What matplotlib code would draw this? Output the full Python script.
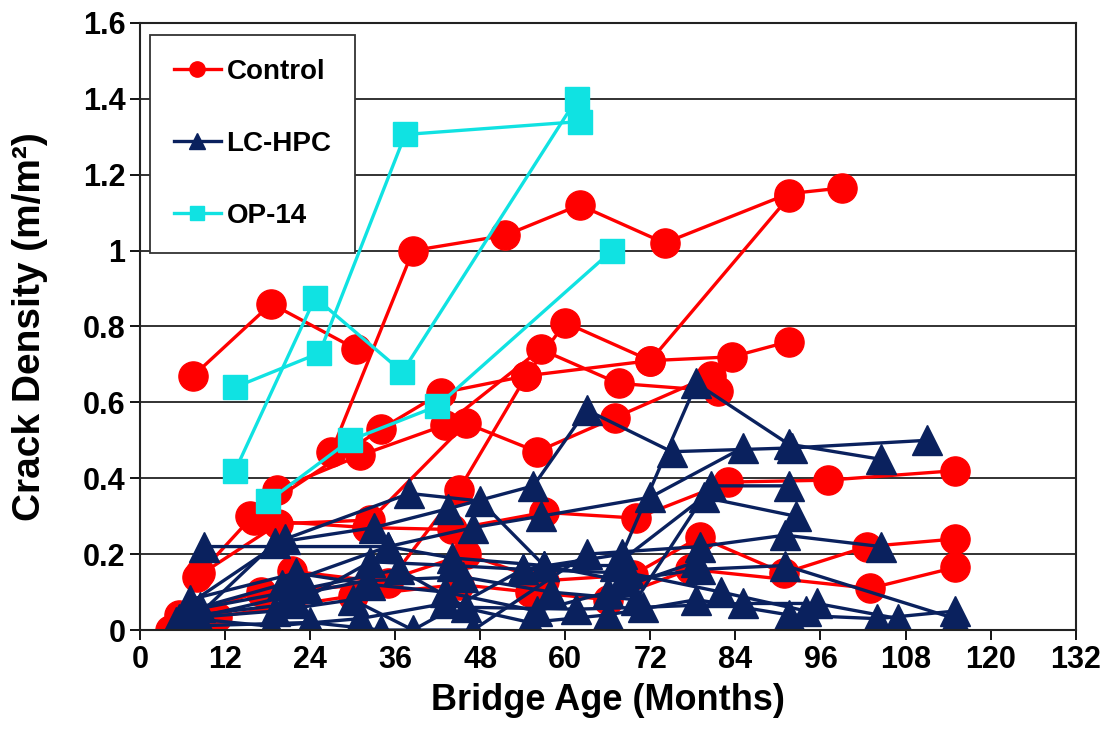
import matplotlib.pyplot as plt
from matplotlib.lines import Line2D

plt.rcParams['font.family'] = ['Liberation Sans', 'DejaVu Sans']
plt.rcParams['font.weight'] = 'bold'

# Control decks: (bridge age in months, crack density in m/m^2)
control_x = [
    [7.5, 18.5, 30.5],
    [27, 38.5, 51.5, 62, 74, 91.5, 99],
    [8.5, 19.3, 31, 43, 56.5, 67.5, 81.5],
    [15.5, 34, 42.5, 54.5, 60, 72, 91.5],
    [8, 19.5, 32.5, 46, 56, 67, 80.5],
    [21.5, 35, 45, 54.5, 72, 83.5, 91.5],
    [16, 32, 44, 57, 70, 83, 97, 115],
    [5.5, 17, 33, 46, 57, 69.5, 79, 90.8, 102.6, 115],
    [4.2, 10.8, 30, 45, 55, 66, 77.6, 103, 115],
]
control_y = [
    [0.67, 0.86, 0.74],
    [0.47, 1.00, 1.04, 1.12, 1.02, 1.15, 1.165],
    [0.15, 0.37, 0.46, 0.54, 0.74, 0.65, 0.63],
    [0.30, 0.53, 0.625, 0.67, 0.81, 0.71, 1.14],
    [0.14, 0.28, 0.29, 0.545, 0.47, 0.56, 0.67],
    [0.155, 0.125, 0.37, 0.67, 0.71, 0.72, 0.76],
    [0.29, 0.27, 0.265, 0.31, 0.295, 0.39, 0.395, 0.42],
    [0.04, 0.10, 0.12, 0.20, 0.13, 0.145, 0.245, 0.15, 0.22, 0.24],
    [0.0, 0.035, 0.09, 0.12, 0.10, 0.08, 0.16, 0.11, 0.165],
]

# LC-HPC decks
lchpc_x = [
    [6, 19, 33, 43.5, 55.5, 63, 75, 92, 111],
    [9, 35, 47, 56.5, 72, 85],
    [7, 20.5, 38, 48, 57, 67, 79.5, 92.5],
    [8, 22, 32.5, 44, 54, 68, 78.5, 91.5, 104.5],
    [5, 21, 32, 45.5, 58, 70, 80.5, 91.5],
    [6.5, 23.5, 36.5, 46, 61.5, 71, 85, 95.5, 107],
    [7.5, 18.5, 31, 43, 55, 66, 78.5, 91.5, 104, 115],
    [6, 24, 34, 47, 63, 79, 91, 104.5],
    [8.5, 20, 35, 44, 57, 68, 79, 91, 115],
    [5.5, 19, 30, 38.5, 54, 69, 82, 94],
    [7, 22, 32.5, 43, 56, 66, 78.5],
]
lchpc_y = [
    [0.0, 0.23, 0.27, 0.32, 0.38, 0.58, 0.47, 0.48, 0.50],
    [0.22, 0.22, 0.27, 0.30, 0.35, 0.48],
    [0.07, 0.24, 0.36, 0.34, 0.17, 0.17, 0.35, 0.30],
    [0.04, 0.07, 0.18, 0.17, 0.16, 0.20, 0.65, 0.49, 0.45],
    [0.02, 0.09, 0.13, 0.14, 0.10, 0.08, 0.38, 0.38],
    [0.05, 0.11, 0.16, 0.06, 0.055, 0.06, 0.07, 0.07, 0.03],
    [0.03, 0.01, 0.03, 0.07, 0.02, 0.04, 0.08, 0.04, 0.03, 0.05],
    [0.01, 0.02, 0.0, 0.0, 0.20, 0.22, 0.25, 0.22],
    [0.06, 0.12, 0.22, 0.19, 0.17, 0.13, 0.16, 0.17, 0.03],
    [0.03, 0.05, 0.08, 0.0, 0.16, 0.15, 0.10, 0.05],
    [0.08, 0.15, 0.12, 0.10, 0.05, 0.10, 0.18],
]

# OP-14 decks
op14_x = [
    [13.4, 24.7, 37, 61.6],
    [13.4, 25.3, 37.4, 62],
    [18.1, 29.6, 41.9, 66.6],
]
op14_y = [
    [0.42, 0.876, 0.68, 1.40],
    [0.64, 0.73, 1.306, 1.34],
    [0.34, 0.50, 0.59, 1.00],
]

red = '#FF0000'
navy = '#0A215E'
cyan = '#10E2E2'

fig = plt.figure(figsize=(11.12, 7.4), dpi=100)
ax = fig.add_axes([0.126, 0.1486, 0.8413, 0.8204])

for xs, ys in zip(control_x, control_y):
    ax.plot(xs, ys, color=red, lw=2.4, marker='o', ms=21, mec=red, mfc=red)
for xs, ys in zip(lchpc_x, lchpc_y):
    ax.plot(xs, ys, color=navy, lw=2.4, marker='^', ms=21, mec=navy, mfc=navy)
for xs, ys in zip(op14_x, op14_y):
    ax.plot(xs, ys, color=cyan, lw=2.4, marker='s', ms=17, mec=cyan, mfc=cyan)

ax.set_xlim(0, 132)
ax.set_ylim(0, 1.6)
ax.set_xticks(range(0, 133, 12))
yt = [0, 0.2, 0.4, 0.6, 0.8, 1.0, 1.2, 1.4, 1.6]
ax.set_yticks(yt)
ax.set_yticklabels(['0', '0.2', '0.4', '0.6', '0.8', '1', '1.2', '1.4', '1.6'])
ax.yaxis.grid(True, color='#222222', lw=1.3)
ax.set_axisbelow(True)
ax.tick_params(axis='both', labelsize=22, direction='out', length=7, width=1.3,
               colors='black')
for sp in ax.spines.values():
    sp.set_color('#222222')
    sp.set_linewidth(1.5)

ax.set_xlabel('Bridge Age (Months)', fontsize=26, fontweight='bold', labelpad=6)
ax.set_ylabel('Crack Density (m/m²)', fontsize=28, fontweight='bold', labelpad=25)

handles = [
    Line2D([], [], color=red, lw=2.4, marker='o', ms=11),
    Line2D([], [], color=navy, lw=2.4, marker='^', ms=11),
    Line2D([], [], color=cyan, lw=2.4, marker='s', ms=10),
]
leg = ax.legend(handles, ['Control', 'LC-HPC', 'OP-14'], loc='upper left',
                bbox_to_anchor=(0.0107, 0.980), borderaxespad=0, fontsize=20,
                labelspacing=1.66, handlelength=1.7, handletextpad=0.2,
                borderpad=0.85, fancybox=False, framealpha=1, edgecolor='#333333')
leg.get_frame().set_linewidth(1.3)

fig.savefig('out.png', dpi=100)
